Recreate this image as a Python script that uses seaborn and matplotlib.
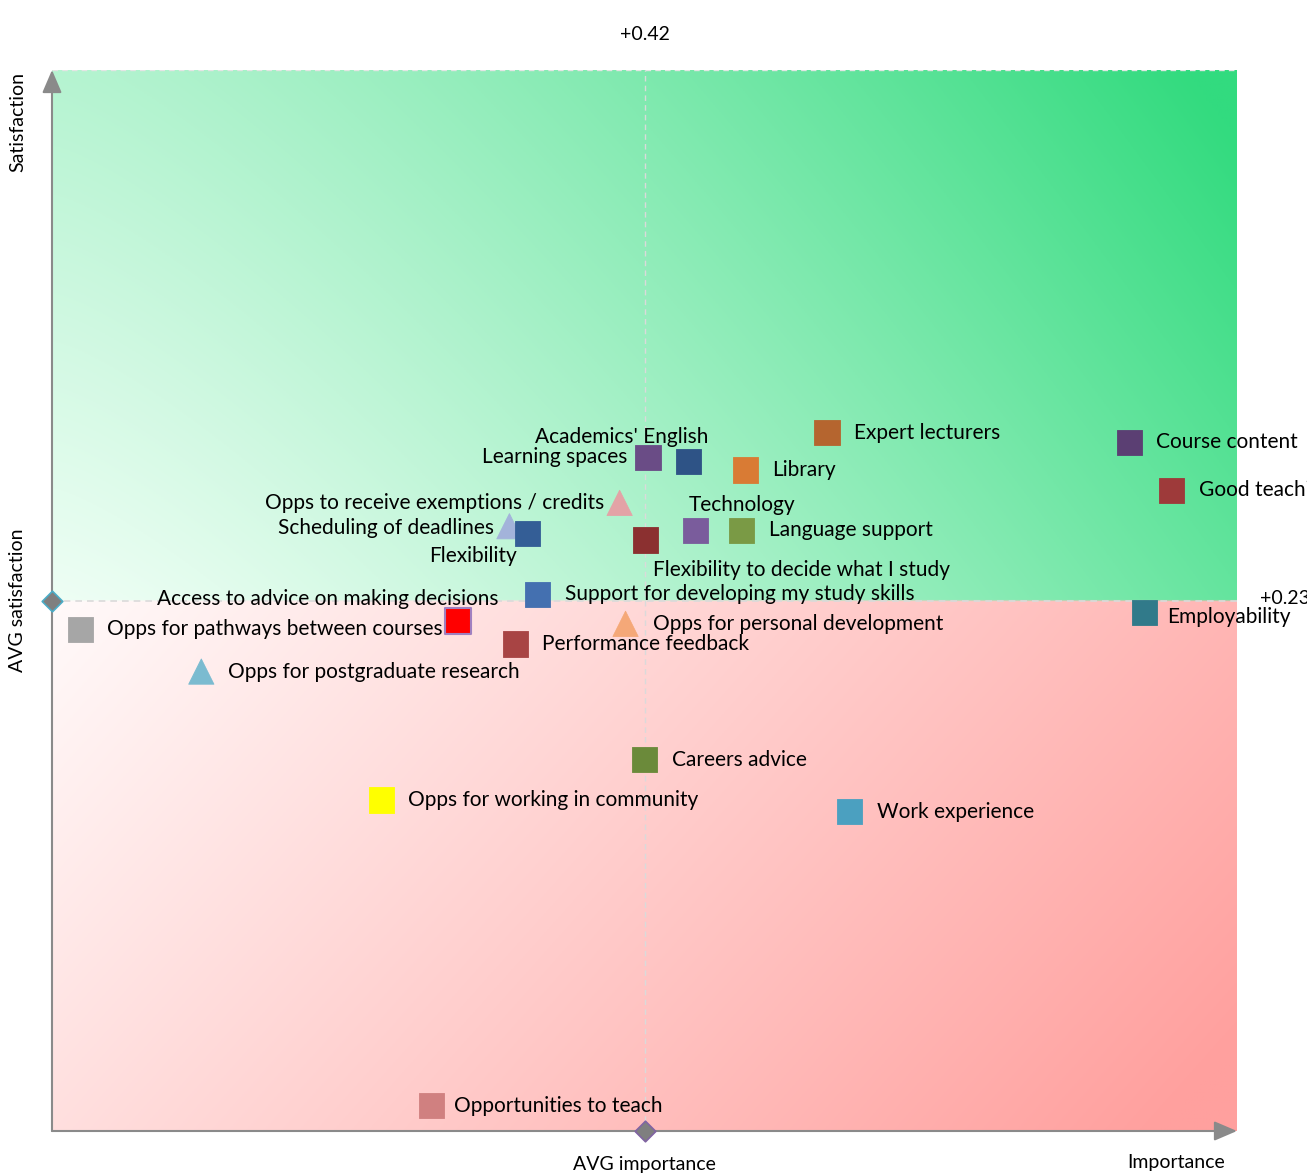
import numpy as np
import pandas as pd
import matplotlib
matplotlib.use("Agg")
import matplotlib.pyplot as plt
import seaborn as sns

plt.rcParams["font.family"] = ["Lato", "DejaVu Sans"]

# Quadrant data (importance index, satisfaction index; averages sit at 50/50)
names = [
    "Course content", "Good teaching", "Employability", "Expert lecturers",
    "Library", "Academics' English", "Learning spaces", "Technology",
    "Language support", "Flexibility to decide what I study",
    "Opps to receive exemptions / credits", "Scheduling of deadlines",
    "Flexibility", "Support for developing my study skills",
    "Access to advice on making decisions", "Opps for pathways between courses",
    "Opps for personal development", "Performance feedback",
    "Opps for postgraduate research", "Careers advice",
    "Opps for working in community", "Work experience", "Opportunities to teach",
]
importance = [90.9, 94.5, 92.2, 65.4, 58.5, 53.7, 50.3, 54.3, 58.2, 50.1,
              47.9, 38.6, 40.1, 41.0, 34.3, 2.4, 48.4, 39.1, 12.6, 50.0,
              27.8, 67.3, 32.0]
satisfaction = [64.9, 60.4, 48.9, 65.8, 62.3, 63.1, 63.5, 56.6, 56.6, 55.7,
                59.2, 57.0, 56.3, 50.6, 48.1, 47.3, 47.8, 45.9, 43.3, 35.0,
                31.2, 30.1, 2.4]
shapes = ["sq", "sq", "sq", "sq", "sq", "sq", "sq", "sq", "sq", "sq",
          "tri", "tri", "sq", "sq", "sq", "sq", "tri", "sq", "tri", "sq",
          "sq", "sq", "sq"]
colors = ["#5B3F73", "#9E3A3A", "#317A8A", "#B5652F", "#D97B34", "#2E5386",
          "#6A4C86", "#7A5C9C", "#7A9A45", "#8B3030", "#E3A3A6", "#A3B3DA",
          "#345E96", "#4470B0", "#FF0000", "#A6A6A6", "#F5A878", "#A84444",
          "#7BBBD0", "#6B8A3A", "#FFFF00", "#4BA0C0", "#D08080"]

avg_importance = 50
avg_satisfaction = 50
avg_importance_label = "+0.42"
avg_satisfaction_label = "+0.23"

df = pd.DataFrame({"name": names, "importance": importance,
                   "satisfaction": satisfaction, "shape": shapes})

# label placement: (dx, dy) in pixels, horizontal alignment
label_pos = {n: (27, 0, "left") for n in names}
label_pos.update({
    "Academics' English": (20, 25, "right"),
    "Learning spaces": (-21, 0, "right"),
    "Technology": (-7, 25, "left"),
    "Flexibility to decide what I study": (7, -30, "left"),
    "Opps to receive exemptions / credits": (-15, 0, "right"),
    "Scheduling of deadlines": (-15, -2, "right"),
    "Flexibility": (-10, -22, "right"),
    "Access to advice on making decisions": (40, 22, "right"),
    "Employability": (23, -5, "left"),
    "Opportunities to teach": (23, 0, "left"),
})

fig = plt.figure(figsize=(13.07, 11.75), dpi=100)
ax = fig.add_axes([52 / 1307, 44 / 1175, 1185 / 1307, 1061 / 1175])

# gradient background
n = 400
xx, yy = np.meshgrid(np.linspace(0, 100, n), np.linspace(0, 100, n))
img = np.zeros((n, n, 3))
green_lo = np.array([0xF2, 0xFF, 0xF7]) / 255
green_hi = np.array([0x33, 0xDB, 0x7F]) / 255
red_lo = np.array([0xFF, 0xFA, 0xFA]) / 255
red_hi = np.array([0xFF, 0xA0, 0x9E]) / 255
top = yy >= avg_satisfaction
u = xx / 100
t_top = np.clip(0.02 + 0.72 * u ** 1.3 + 0.3 * (yy - 50) / 50, 0, 1)
t_bot = np.clip(0.75 * u + 0.3 * (50 - yy) / 50, 0, 1)
for c in range(3):
    img[..., c] = np.where(top,
                           green_lo[c] + (green_hi[c] - green_lo[c]) * t_top,
                           red_lo[c] + (red_hi[c] - red_lo[c]) * t_bot)
ax.imshow(img, extent=[0, 100, 0, 100], origin="lower", aspect="auto", zorder=0)

ax.set_xlim(0, 100)
ax.set_ylim(0, 100)
ax.axis("off")

# average lines
ax.axvline(avg_importance, color="#DADADA", lw=1, ls=(0, (4, 3)), zorder=1)
ax.axhline(avg_satisfaction, color="#DADADA", lw=1.2, ls=(0, (4, 3)), zorder=1)
ax.axhline(100, color="#E4E4E4", lw=1, ls=(0, (4, 3)), zorder=1)

palette = dict(zip(names, colors))
sns.scatterplot(data=df, x="importance", y="satisfaction", hue="name",
                palette=palette, style="shape", markers={"sq": "s", "tri": "^"},
                s=330, edgecolor="face", linewidth=0.6, legend=False,
                ax=ax, zorder=3)
# highlighted point with a lavender edge
hl = df[df["name"] == "Access to advice on making decisions"]
ax.scatter(hl["importance"], hl["satisfaction"], marker="s", s=330,
           facecolor="#FF0000", edgecolor="#A080C0", linewidth=1.5, zorder=4)

for nm, xv, yv in zip(names, importance, satisfaction):
    dx, dy, ha = label_pos[nm]
    ax.annotate(nm, (xv, yv), xytext=(dx * 0.72, dy * 0.72),
                textcoords="offset points", ha=ha, va="center",
                fontsize=15, color="black", annotation_clip=False, zorder=5)

# axis arrows
ax.annotate("", xy=(100, 0), xytext=(0, 0), annotation_clip=False,
            arrowprops=dict(arrowstyle="-|>,head_length=1.4,head_width=0.6",
                            color="#8A8A8A", lw=1.5, shrinkA=0, shrinkB=0))
ax.annotate("", xy=(0, 100), xytext=(0, 0), annotation_clip=False,
            arrowprops=dict(arrowstyle="-|>,head_length=1.4,head_width=0.6",
                            color="#8A8A8A", lw=1.5, shrinkA=0, shrinkB=0))

# average markers on axes
ax.scatter([0], [avg_satisfaction], marker="D", s=110, color="#7F7F7F",
           edgecolor="#4BACC6", linewidth=1.2, clip_on=False, zorder=6)
ax.scatter([avg_importance], [0], marker="D", s=110, color="#7F7F7F",
           edgecolor="#8064A2", linewidth=1.2, clip_on=False, zorder=6)

txt = dict(fontsize=14, color="black", clip_on=False)
ax.text(-2.87, 95.1, "Satisfaction", rotation=90, ha="center", va="center", **txt)
ax.text(-2.87, 50.0, "AVG satisfaction", rotation=90, ha="center", va="center", **txt)
ax.text(avg_importance, -3.2, "AVG importance", ha="center", va="center", **txt)
ax.text(94.9, -3.0, "Importance", ha="center", va="center", **txt)
ax.text(avg_importance, 103.3, avg_importance_label, ha="center", va="center", **txt)
ax.text(101.9, 50.2, avg_satisfaction_label, ha="left", va="center", **txt)

fig.savefig("out.png", dpi=100)
